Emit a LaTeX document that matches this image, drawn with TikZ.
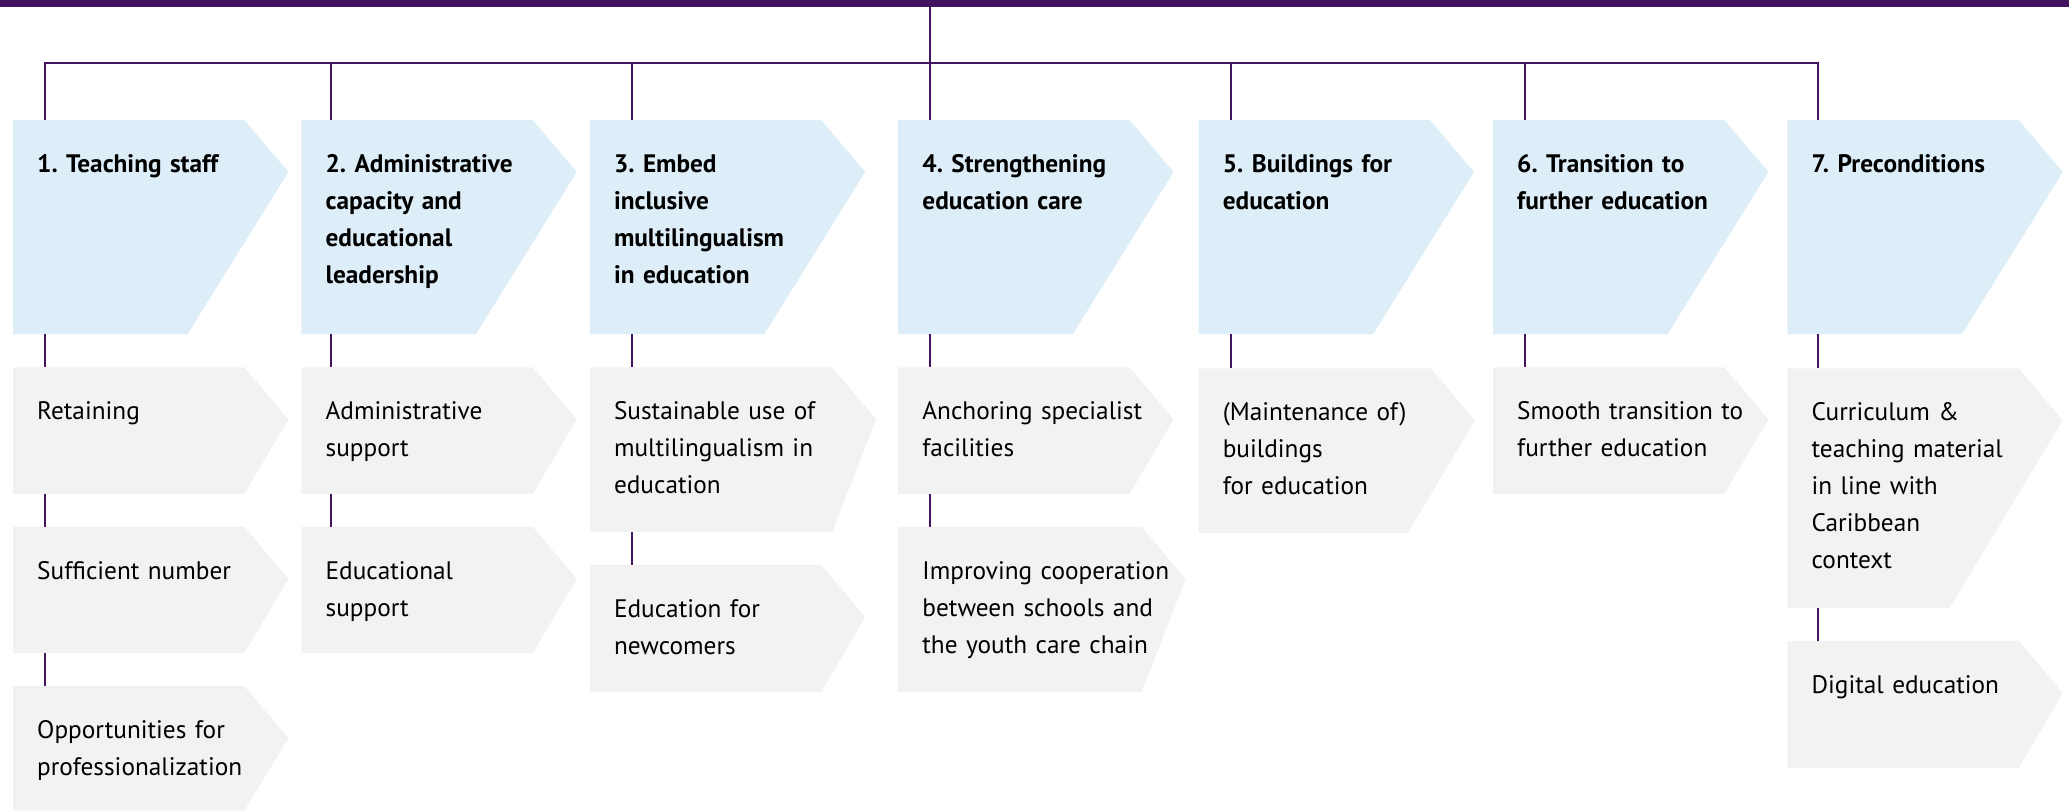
\documentclass[tikz,border=0pt]{standalone}
\usepackage{fontspec}
\setmainfont{PT Sans}
\usetikzlibrary{positioning, backgrounds}
\definecolor{rijkviolet}{HTML}{42145F}
\definecolor{headblue}{HTML}{DDEEF8}
\definecolor{subgrey}{HTML}{F2F2F2}
\frenchspacing

\tikzset{
  box/.style={anchor=north west, inner xsep=24pt, inner ysep=35pt, text height=17pt,
    align=left, text width=227pt, font=\fontsize{25.3}{37}\selectfont},
  head/.style={box, font=\fontsize{25.3}{37}\selectfont\bfseries, text depth=127pt},
  sub/.style={box, text depth=39pt},
  link/.style={draw=rijkviolet, line width=2pt},
}

\begin{document}
\begin{tikzpicture}[x=1pt, y=-1pt]
  \useasboundingbox (0,0) rectangle (2069,811);

  \node[fill=rijkviolet, inner sep=0pt, minimum width=2069pt, minimum height=7pt, anchor=north west] (bar) at (0,0) {};

  % headers
  \node[head] (h1) at (13,120) {1. Teaching staff};
  \node[head, right=13pt of h1] (h2) {2. Administrative\\capacity and\\educational\\leadership};
  \node[head, right=13pt of h2] (h3) {3. Embed\\inclusive\\multilingualism\\in education};
  \node[head, right=33pt of h3] (h4) {4. Strengthening\\education care};
  \node[head, right=25pt of h4] (h5) {5. Buildings for\\education};
  \node[head, right=19pt of h5] (h6) {6. Transition to\\further education};
  \node[head, right=19pt of h6] (h7) {7. Preconditions};

  % sub boxes
  \node[sub, below right=33pt and 0pt of h1.south west] (s11) {Retaining};
  \node[sub, below right=33pt and 0pt of s11.south west] (s12) {Sufficient number};
  \node[sub, below right=33pt and 0pt of s12.south west, text depth=37pt] (s13) {Opportunities for\\professionalization};

  \node[sub, below right=33pt and 0pt of h2.south west] (s21) {Administrative\\support};
  \node[sub, below right=33pt and 0pt of s21.south west] (s22) {Educational\\support};

  \node[sub, below right=33pt and 0pt of h3.south west, text width=238pt, text depth=77pt] (s31) {Sustainable use of\\multilingualism in\\education};
  \node[sub, below right=33pt and 0pt of s31.south west, text depth=40pt] (s32) {Education for\\newcomers};

  \node[sub, below right=33pt and 0pt of h4.south west] (s41) {Anchoring specialist\\facilities};
  \node[sub, below right=33pt and 0pt of s41.south west, text width=239pt, text depth=78pt] (s42) {\mbox{Improving cooperation}\\between schools and\\the youth care chain};

  \node[sub, below right=34pt and 0pt of h5.south west, text width=228pt, text depth=77pt] (s51) {(Maintenance of)\\buildings\\for education};

  \node[sub, below right=33pt and 0pt of h6.south west] (s61) {Smooth transition to\\further education};

  \node[sub, below right=34pt and 0pt of h7.south west, text depth=152pt] (s71) {Curriculum \&\\teaching material\\in line with\\Caribbean\\context};
  \node[sub, below right=33pt and 0pt of s71.south west, text depth=40pt] (s72) {Digital education};

  % chevron fills
  \begin{scope}[on background layer]
    \foreach \n/\c/\i in {h1/headblue/101pt, h2/headblue/101pt, h3/headblue/101pt, h4/headblue/101pt,
        h5/headblue/101pt, h6/headblue/101pt, h7/headblue/101pt,
        s11/subgrey/44pt, s12/subgrey/44pt, s13/subgrey/44pt, s21/subgrey/44pt, s22/subgrey/44pt,
        s31/subgrey/44pt, s32/subgrey/44pt, s41/subgrey/44pt, s42/subgrey/44pt,
        s51/subgrey/67pt, s61/subgrey/44pt, s71/subgrey/113pt, s72/subgrey/44pt}
      \fill[\c] (\n.north west) -- ([xshift=-44pt]\n.north east) -- ([yshift=-52pt]\n.north east)
        -- ([xshift=-\i]\n.south east) -- (\n.south west) -- cycle;
  \end{scope}

  % connectors
  \coordinate (b1) at ([xshift=32pt]h1.north west);
  \coordinate (b2) at ([xshift=30pt]h2.north west);
  \coordinate (b3) at ([xshift=42pt]h3.north west);
  \coordinate (b4) at ([xshift=32pt]h4.north west);
  \coordinate (b5) at ([xshift=32pt]h5.north west);
  \coordinate (b6) at ([xshift=32pt]h6.north west);
  \coordinate (b7) at ([xshift=31pt]h7.north west);
  \coordinate (rail) at (0,63);

  \draw[link] (bar.south -| b4) -- (b4);
  \draw[link] (b1) |- (rail -| b7) -- (b7);
  \foreach \b in {b2,b3,b5,b6}
    \draw[link] (rail -| \b) -- (\b);

  \draw[link] (h1.south -| b1) -- (s11.north -| b1);
  \draw[link] (s11.south -| b1) -- (s12.north -| b1);
  \draw[link] (s12.south -| b1) -- (s13.north -| b1);
  \draw[link] (h2.south -| b2) -- (s21.north -| b2);
  \draw[link] (s21.south -| b2) -- (s22.north -| b2);
  \draw[link] (h3.south -| b3) -- (s31.north -| b3);
  \draw[link] (s31.south -| b3) -- (s32.north -| b3);
  \draw[link] (h4.south -| b4) -- (s41.north -| b4);
  \draw[link] (s41.south -| b4) -- (s42.north -| b4);
  \draw[link] (h5.south -| b5) -- (s51.north -| b5);
  \draw[link] (h6.south -| b6) -- (s61.north -| b6);
  \draw[link] (h7.south -| b7) -- (s71.north -| b7);
  \draw[link] (s71.south -| b7) -- (s72.north -| b7);
\end{tikzpicture}
\end{document}
